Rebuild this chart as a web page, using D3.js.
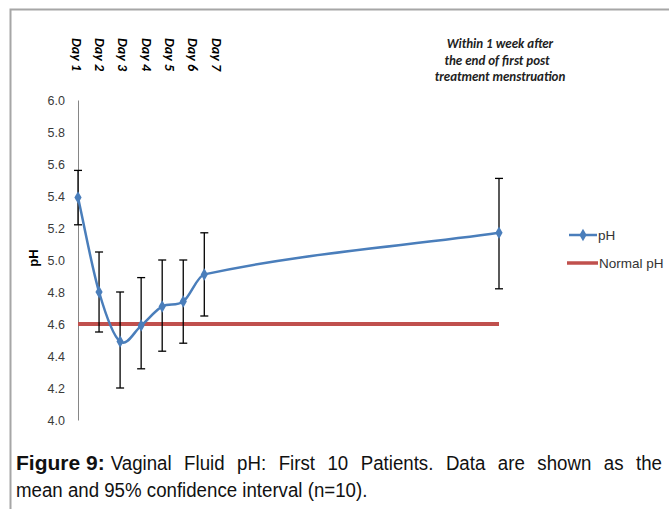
<!DOCTYPE html>
<html><head><meta charset="utf-8">
<script src="https://cdn.jsdelivr.net/npm/d3@7"></script>
<style>body{margin:0;background:#fff}svg{display:block}</style>
</head><body>
<script>
const dayLabels = ["Day 1","Day 2","Day 3","Day 4","Day 5","Day 6","Day 7"];
const timeIndex = [0,1,2,3,4,5,6,20];
const phMean = [5.39,4.80,4.49,4.59,4.71,4.74,4.91,5.17];
const ciLow  = [5.22,4.55,4.20,4.32,4.43,4.48,4.65,4.82];
const ciHigh = [5.56,5.05,4.80,4.89,5.00,5.00,5.17,5.51];
const normalPH = 4.6;
const yTicks = ["4.0","4.2","4.4","4.6","4.8","5.0","5.2","5.4","5.6","5.8","6.0"];
const noteLines = ["Within 1 week after","the end of first post","treatment menstruation"];
const legendLabels = ["pH","Normal pH"];
const captionBold = "Figure 9:";
const captionRest = ["Vaginal Fluid pH: First 10 Patients. Data are shown as the","mean and 95% confidence interval (n=10)."];

const W=669,H=509;
const svg=d3.select("body").append("svg").attr("width",W).attr("height",H);
svg.append("path").attr("d",`M10.5,${H} V9.5 H${W}`).attr("fill","none").attr("stroke","#a6a6a6").attr("stroke-width",2);

const x=d3.scaleLinear().domain([0,20]).range([78,499]);
const y=d3.scaleLinear().domain([4,6]).range([420,100]);
const blue="#4a7ebb", red="#c0504d";
const calibri="Carlito, Calibri, DejaVu Sans, sans-serif";

// y axis
const ax=svg.append("g").attr("transform","translate(78,0)")
  .call(d3.axisLeft(y).tickValues(yTicks.map(Number)).tickFormat((d,i)=>yTicks[i]).tickSize(0).tickPadding(13));
ax.select(".domain").attr("stroke","#868686").attr("stroke-width",1);
ax.selectAll("text").attr("font-family","Liberation Sans, Arial").attr("font-size",12.5).attr("fill","#3a3a3a");

svg.append("text").attr("transform","translate(38,258) rotate(-90)").attr("text-anchor","middle")
  .attr("font-family","Liberation Sans, Arial").attr("font-weight","bold").attr("font-size",13).text("pH");

// normal line
svg.append("line").attr("x1",x(0)).attr("x2",x(20)).attr("y1",y(normalPH)).attr("y2",y(normalPH))
  .attr("stroke",red).attr("stroke-width",4);

// error bars
const eb=svg.append("g").attr("stroke","#000").attr("stroke-width",1.3);
timeIndex.forEach((t,i)=>{
  const cx=x(t);
  eb.append("line").attr("x1",cx).attr("x2",cx).attr("y1",y(ciLow[i])).attr("y2",y(ciHigh[i]));
  [ciLow[i],ciHigh[i]].forEach(v=>eb.append("line").attr("x1",cx-4).attr("x2",cx+4).attr("y1",y(v)).attr("y2",y(v)));
});

// smoothed pH line (cubic Hermite, finite-difference tangents)
const pts=timeIndex.map((t,i)=>[x(t),y(phMean[i])]);
function smoothPath(p){
  const n=p.length, m=[];
  for(let i=0;i<n;i++){
    const a=p[Math.max(0,i-1)], b=p[Math.min(n-1,i+1)];
    m.push((b[1]-a[1])/(b[0]-a[0]));
  }
  const path=d3.path(); path.moveTo(p[0][0],p[0][1]);
  for(let i=0;i<n-1;i++){
    const h=(p[i+1][0]-p[i][0])/3;
    path.bezierCurveTo(p[i][0]+h,p[i][1]+m[i]*h,p[i+1][0]-h,p[i+1][1]-m[i+1]*h,p[i+1][0],p[i+1][1]);
  }
  return path.toString();
}
svg.append("path").attr("d",smoothPath(pts)).attr("fill","none").attr("stroke",blue).attr("stroke-width",2.5);
svg.selectAll("path.mk").data(pts).join("path").attr("class","mk")
  .attr("d",d3.symbol(d3.symbolDiamond,45)).attr("transform",d=>`translate(${d[0]},${d[1]})`).attr("fill",blue);

// day labels
const xl=d3.scaleLinear().domain([0,6]).range([75,215]);
dayLabels.forEach((d,i)=>{
  svg.append("text").attr("transform",`translate(${xl(i)},38) rotate(90)`)
    .attr("font-family",calibri).attr("font-style","italic").attr("font-weight","bold")
    .attr("font-size",14).attr("dominant-baseline","middle").text(d);
});

// note
noteLines.forEach((l,i)=>{
  svg.append("text").attr("x",i===1?497:500).attr("y",48+i*16.5).attr("text-anchor","middle")
    .attr("font-family",calibri).attr("font-style","italic").attr("font-weight","bold")
    .attr("font-size",13).attr("fill","#222").text(l);
});

// legend
svg.append("line").attr("x1",569).attr("x2",597).attr("y1",235).attr("y2",235).attr("stroke",blue).attr("stroke-width",2.5);
svg.append("path").attr("d",d3.symbol(d3.symbolDiamond,45)).attr("transform","translate(583,235)").attr("fill",blue);
svg.append("text").attr("x",598).attr("y",240).attr("font-family","Liberation Sans, Arial").attr("font-size",13.5).attr("fill","#333").text(legendLabels[0]);
svg.append("line").attr("x1",567).attr("x2",598).attr("y1",263).attr("y2",263).attr("stroke",red).attr("stroke-width",3.5);
svg.append("text").attr("x",599).attr("y",268).attr("font-family","Liberation Sans, Arial").attr("font-size",13.5).attr("fill","#333").text(legendLabels[1]);

// caption
const fs=21, sx=0.89;
const b=svg.append("text").attr("x",16).attr("y",470).attr("font-family","Liberation Sans, Arial")
  .attr("font-size",fs).attr("font-weight","bold").attr("fill","#111").text(captionBold);
const bw=b.node().getComputedTextLength();
const x0=16+bw+6;
const r1=svg.append("text").attr("transform",`translate(${x0},470) scale(${sx},1)`).attr("font-family","Liberation Sans, Arial")
  .attr("font-size",fs).attr("fill","#111").text(captionRest[0]);
const nat=r1.node().getComputedTextLength();
const spaces=captionRest[0].split(" ").length-1;
r1.attr("word-spacing",Math.max(0,((662-x0)/sx-nat)/spaces));
svg.append("text").attr("transform",`translate(16,497) scale(${sx},1)`).attr("font-family","Liberation Sans, Arial")
  .attr("font-size",fs).attr("fill","#111").text(captionRest[1]);
</script>
</body></html>
